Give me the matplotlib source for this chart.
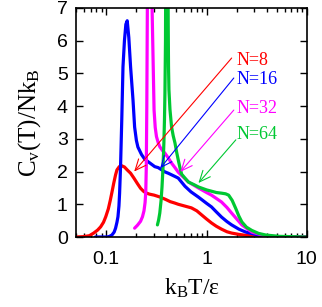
import matplotlib
matplotlib.use("Agg")
import matplotlib.pyplot as plt
from matplotlib.ticker import LogLocator, NullFormatter, FixedLocator

plt.rcParams["mathtext.fontset"] = "custom"
plt.rcParams["mathtext.rm"] = "Liberation Serif"
plt.rcParams["mathtext.it"] = "Liberation Serif:italic"

# N=8
t8 = [0.05, 0.059, 0.068, 0.075, 0.082, 0.088, 0.094, 0.099, 0.105, 0.11, 0.115, 0.119, 0.124,
      0.128, 0.135, 0.142, 0.152, 0.162, 0.175, 0.189, 0.205, 0.22, 0.235, 0.248, 0.27, 0.3,
      0.345, 0.39, 0.435, 0.48, 0.523, 0.6, 0.707, 0.8, 0.89, 1.0, 1.12, 1.25, 1.41, 1.6, 1.78,
      2.1, 2.46, 3.3, 4.5, 10.0]
c8 = [0.0, 0.01, 0.04, 0.12, 0.21, 0.31, 0.45, 0.62, 0.86, 1.13, 1.42, 1.65, 1.9,
      2.05, 2.15, 2.18, 2.14, 2.05, 1.95, 1.8, 1.63, 1.49, 1.4, 1.35, 1.31, 1.28,
      1.22, 1.15, 1.08, 1.04, 1.0, 0.95, 0.89, 0.8, 0.68, 0.55, 0.43, 0.33, 0.24, 0.16, 0.12,
      0.08, 0.05, 0.02, 0.0, 0.0]
# N=16
t16 = [0.078, 0.102, 0.108, 0.114, 0.12, 0.124, 0.128, 0.131, 0.134, 0.136, 0.139, 0.143, 0.147,
       0.152, 0.157, 0.162, 0.168, 0.175, 0.185, 0.192, 0.2, 0.207, 0.225, 0.242, 0.262, 0.305,
       0.33, 0.385, 0.415, 0.485, 0.523, 0.61, 0.7, 0.83, 1.0, 1.12, 1.25, 1.41, 1.6, 1.78, 2.1,
       2.46, 3.3, 4.5, 10.0]
c16 = [0.0, 0.0, 0.02, 0.06, 0.15, 0.27, 0.45, 0.62, 0.95, 1.34, 2.15, 3.6, 5.2,
       6.0, 6.5, 6.61, 6.1, 5.2, 4.19, 3.36, 2.95, 2.75, 2.52, 2.38, 2.3, 2.15,
       2.12, 1.99, 1.95, 1.85, 1.8, 1.55, 1.38, 1.22, 1.03, 0.92, 0.77, 0.61, 0.47, 0.37, 0.24,
       0.15, 0.06, 0.01, 0.0]
# N=32
t32 = [0.192, 0.205, 0.22, 0.23, 0.238, 0.244, 0.248, 0.251, 0.254, 0.257, 0.259, 0.284, 0.287,
       0.293, 0.3, 0.308, 0.317, 0.33, 0.342, 0.365, 0.385, 0.415, 0.448, 0.485, 0.523, 0.587,
       0.66, 0.75, 0.83, 1.0, 1.12, 1.25, 1.41, 1.6, 1.78, 2.0, 2.25, 2.83, 3.9, 6.0, 10.0]
c32 = [0.27, 0.36, 0.48, 0.62, 0.8, 1.05, 1.38, 2.15, 4.0, 6.9, 9.0, 9.0, 6.9,
       5.5, 3.88, 3.35, 3.07, 2.88, 2.76, 2.64, 2.56, 2.42, 2.26, 2.12, 1.98, 1.83,
       1.68, 1.58, 1.5, 1.36, 1.28, 1.18, 1.07, 0.9, 0.73, 0.55, 0.37, 0.15, 0.03, 0.0, 0.0]
# N=64
t64 = [0.324, 0.333, 0.342, 0.352, 0.36, 0.368, 0.376, 0.381, 0.385, 0.39, 0.393, 0.412, 0.415,
       0.418, 0.422, 0.432, 0.448, 0.465, 0.485, 0.503, 0.523, 0.545, 0.565, 0.61, 0.66, 0.75,
       0.83, 1.0, 1.12, 1.25, 1.41, 1.55, 1.66, 1.8, 1.95, 2.1, 2.25, 2.5, 2.83, 3.3, 3.9, 5.3, 10.0]
c64 = [0.37, 0.52, 0.73, 1.1, 1.53, 2.1, 2.9, 3.6, 4.4, 6.0, 9.0, 9.0, 6.5,
       5.2, 4.5, 3.9, 3.37, 3.1, 2.87, 2.6, 2.35, 2.1, 1.92, 1.8, 1.68, 1.6,
       1.53, 1.44, 1.4, 1.36, 1.34, 1.32, 1.28, 1.12, 0.88, 0.64, 0.46, 0.3, 0.2, 0.11, 0.06,
       0.02, 0.0]

labels = ["N=8", "N=16", "N=32", "N=64"]
colors = ["#ff0000", "#0000ff", "#ff00ff", "#00c832"]
label_pos = [(2.0, 5.38), (2.0, 4.8), (2.0, 3.94), (2.0, 3.12)]
arrow_tail = [(1.78, 5.47), (1.87, 4.86), (1.87, 3.88), (1.96, 2.97)]
arrow_tip = [(0.19, 2.0), (0.345, 2.1), (0.548, 1.99), (0.83, 1.65)]

fig = plt.figure(figsize=(3.22, 3.07), dpi=100)
ax = fig.add_axes([0.236, 0.228, 0.717, 0.746])

for t, c, col in zip([t8, t16, t32, t64], [c8, c16, c32, c64], colors):
    ax.plot(t, c, color=col, lw=2.3, solid_joinstyle="round", solid_capstyle="round")

for lab, col, lp, tail, tip in zip(labels, colors, label_pos, arrow_tail, arrow_tip):
    ax.annotate("", xy=tip, xytext=tail,
                arrowprops=dict(arrowstyle="->,head_length=0.8,head_width=0.35",
                                color=col, lw=0.8, shrinkA=0, shrinkB=0))
    ax.text(lp[0], lp[1], lab, color=col, fontsize=13, family="Liberation Serif",
            ha="left", va="center")

ax.set_xscale("log")
ax.set_xlim(0.05, 10)
ax.set_ylim(0, 7)
ax.xaxis.set_major_locator(FixedLocator([0.1, 1, 10]))
ax.set_xticklabels(["0.1", "1", "10"])
ax.xaxis.set_minor_locator(LogLocator(base=10, subs=range(2, 10)))
ax.xaxis.set_minor_formatter(NullFormatter())
ax.set_yticks(range(0, 8))
ax.tick_params(which="both", direction="in", top=True, right=True,
               labelsize=14, width=1)
ax.tick_params(which="major", length=5)
ax.tick_params(which="minor", length=3)
for lbl in ax.get_xticklabels() + ax.get_yticklabels():
    lbl.set_family("Liberation Sans")
ax.tick_params(axis="x", pad=10)
ax.tick_params(axis="y", pad=6)
for s in ax.spines.values():
    s.set_linewidth(1.2)

ax.set_xlabel(r"k$_\mathregular{B}$T/ε", family="Liberation Serif", fontsize=17, labelpad=6)
ax.set_ylabel(r"C$_\mathregular{v}$(T)/Nk$_\mathregular{B}$", family="Liberation Serif",
              fontsize=18, labelpad=10)

fig.savefig("out.png", dpi=100)
